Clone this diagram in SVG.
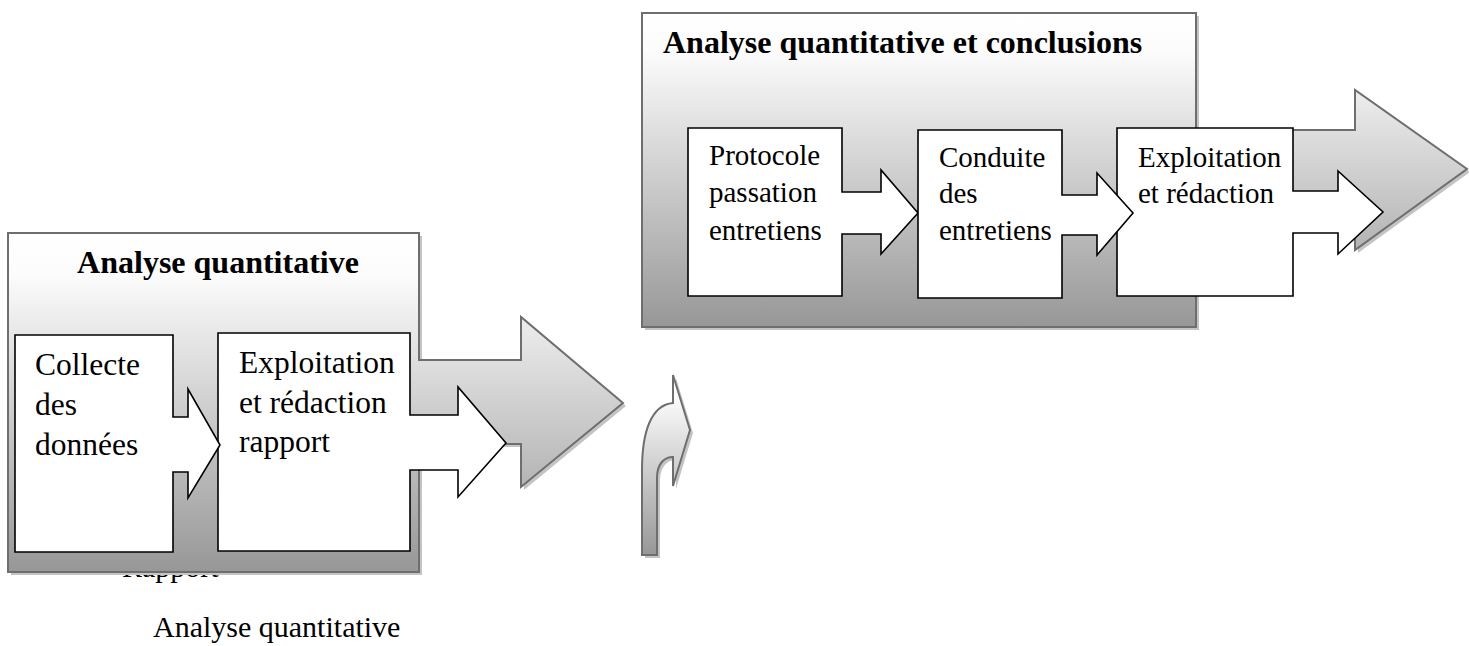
<svg xmlns="http://www.w3.org/2000/svg" xmlns:xlink="http://www.w3.org/1999/xlink" width="1469" height="646" viewBox="0 0 1469 646">
<style>
.blk{stroke:#6e6e6e;stroke-width:2;stroke-linejoin:miter}
.shd{fill:#c4c4c4;stroke:none}
.box{fill:#ffffff;stroke:#000000;stroke-width:1.6;stroke-linejoin:miter}
.t{font-family:"Liberation Serif","Times New Roman",serif;fill:#000000}
.tb{font-family:"Liberation Serif","Times New Roman",serif;font-weight:bold;fill:#000000}
</style>
<defs>
<linearGradient id="g" x1="0" y1="0" x2="0" y2="1">
<stop offset="0" stop-color="#ffffff"/>
<stop offset="0.12" stop-color="#fcfcfc"/>
<stop offset="1" stop-color="#979797"/>
</linearGradient>
<path id="blockL" d="M8,233 H419 V360 H521 V317 L623,403 L521,487 V444 H419 V572 H8 Z"/>
<path id="blockR" d="M642,13 H1196 V130 H1355 V90 L1467,169 L1355,250 V209 H1196 V327 H642 Z"/>
<path id="curve" d="M642,555 V470 C642,432 651,405 673,403 V375 L690,430 L673,486 V457 C664,457 657,464 657,478 V555 Z"/>
</defs>

<text class="t" x="122" y="577" font-size="30">Rapport</text>
<text class="t" x="153" y="637" font-size="30">Analyse quantitative</text>

<g id="block-left">
<use xlink:href="#blockL" class="shd" transform="translate(3,3)"/>
<use xlink:href="#blockL" class="blk" fill="url(#g)"/>
<text class="tb" x="218" y="273" font-size="32" text-anchor="middle">Analyse quantitative</text>
</g>

<g id="node-exploitation-rapport">
<path class="box" d="M218,333 H410 V415 H458 V387 L506,443 L458,497 V470 H410 V551 H218 Z"/>
<text class="t" font-size="31.5"><tspan x="239" y="373">Exploitation</tspan><tspan x="239" y="413">et rédaction</tspan><tspan x="239" y="452">rapport</tspan></text>
</g>

<g id="node-collecte">
<path class="box" d="M15,335 H173 V417 H188 V389 L220,445 L188,498 V472 H173 V552 H15 Z"/>
<text class="t" font-size="31.5"><tspan x="35" y="375">Collecte</tspan><tspan x="35" y="415">des</tspan><tspan x="35" y="455">données</tspan></text>
</g>

<g id="connectors">
<use xlink:href="#curve" class="shd" transform="translate(3,3)"/>
<use xlink:href="#curve" class="blk" fill="url(#g)"/>
</g>

<g id="block-right">
<use xlink:href="#blockR" class="shd" transform="translate(3,3)"/>
<use xlink:href="#blockR" class="blk" fill="url(#g)"/>
<text class="tb" x="663" y="53" font-size="32">Analyse quantitative et conclusions</text>
</g>

<g id="node-protocole">
<path class="box" d="M688,128 H842 V192 H881 V170 L918,213 L881,254 V234 H842 V296 H688 Z"/>
<text class="t" font-size="29"><tspan x="709" y="165">Protocole</tspan><tspan x="709" y="202">passation</tspan><tspan x="709" y="240">entretiens</tspan></text>
</g>

<g id="node-exploitation-redaction">
<path class="box" d="M1117,128 H1293 V191 H1338 V171 L1383,212 L1338,254 V233 H1293 V296 H1117 Z"/>
<text class="t" font-size="29"><tspan x="1138" y="167">Exploitation</tspan><tspan x="1138" y="203">et rédaction</tspan></text>
</g>

<g id="node-conduite">
<path class="box" d="M918,130 H1062 V195 H1097 V173 L1133,213 L1097,255 V235 H1062 V298 H918 Z"/>
<text class="t" font-size="29"><tspan x="939" y="167">Conduite</tspan><tspan x="939" y="203">des</tspan><tspan x="939" y="240">entretiens</tspan></text>
</g>
</svg>
